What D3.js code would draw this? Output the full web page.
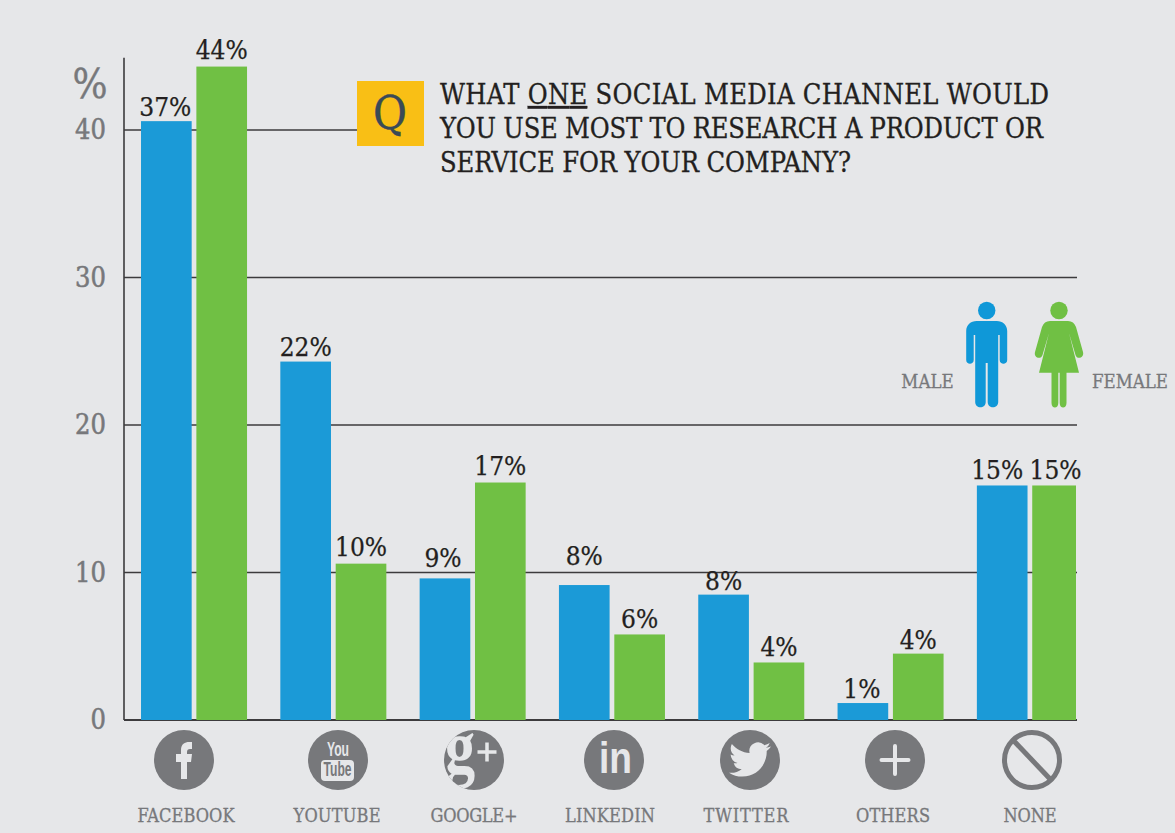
<!DOCTYPE html>
<html>
<head>
<meta charset="utf-8">
<script src="https://cdnjs.cloudflare.com/ajax/libs/d3/7.8.5/d3.min.js"></script>
<style>
  html, body { margin: 0; padding: 0; background: #e6e7e9; }
  svg { display: block; }
  text { font-family: "DejaVu Serif Condensed", "DejaVu Serif", serif; }
</style>
</head>
<body>
<div id="chart"></div>
<script>
const categories = ['FACEBOOK', 'YOUTUBE', 'GOOGLE+', 'LINKEDIN', 'TWITTER', 'OTHERS', 'NONE'];
// bar heights as drawn, these do not always agree with the printed labels
const maleValues = [40.6, 24.3, 9.6, 9.15, 8.5, 1.15, 15.9];
const femaleValues = [44.3, 10.6, 16.1, 5.8, 3.9, 4.5, 15.9];
const maleLabels = ['37%', '22%', '9%', '8%', '8%', '1%', '15%'];
const femaleLabels = ['44%', '10%', '17%', '6%', '4%', '4%', '15%'];
const yTicks = [0, 10, 20, 30, 40];
const titleLines = ['WHAT ', 'ONE', ' SOCIAL MEDIA CHANNEL WOULD'];
const titleRest = ['YOU USE MOST TO RESEARCH A PRODUCT OR', 'SERVICE FOR YOUR COMPANY?'];

const width = 1175;
const height = 833;
const blue = '#1b9ad7';
const green = '#70c044';
const grey = '#77787b';
const ink = '#231f20';
const bg = '#e6e7e9';

const svg = d3.select('#chart').append('svg')
  .attr('width', width)
  .attr('height', height);

svg.append('rect').attr('width', width).attr('height', height).attr('fill', bg);

const x = d3.scaleBand().domain(categories).range([124.3, 1099.6]).paddingInner(0.239).paddingOuter(0.12);
const sub = d3.scaleBand().domain(['male', 'female']).range([0, x.bandwidth()]).paddingInner(0.085);
const y = d3.scaleLinear().domain([0, 40]).range([720, 130]);

// grid, the 40 line stops at the Q box
const gridEnd = [1077, 1077, 1077, 1077, 357];
svg.append('g').selectAll('line')
  .data(yTicks)
  .enter().append('line')
  .attr('x1', 124)
  .attr('x2', (d, i) => gridEnd[i])
  .attr('y1', d => y(d))
  .attr('y2', d => y(d))
  .attr('stroke', '#3c3b3d')
  .attr('stroke-width', d => d === 0 ? 2 : 1.4);

// y axis
const yAxis = svg.append('g')
  .attr('transform', 'translate(124,0)')
  .call(d3.axisLeft(y).tickValues(yTicks).tickSize(0).tickPadding(18));
yAxis.select('.domain').remove();
yAxis.selectAll('text')
  .attr('fill', grey)
  .attr('stroke', grey)
  .attr('stroke-width', 0.5)
  .style('font-size', '27px');

svg.append('line')
  .attr('x1', 124).attr('x2', 124)
  .attr('y1', y(44.9)).attr('y2', y(0))
  .attr('stroke', '#3c3b3d').attr('stroke-width', 1.6);

svg.append('text')
  .attr('x', 90).attr('y', 98)
  .attr('text-anchor', 'middle')
  .attr('fill', grey)
  .attr('stroke', grey)
  .attr('stroke-width', 0.4)
  .style('font-size', '41px')
  .text('%');

// the last green bar is cut off by the end of the grid
svg.append('clipPath').attr('id', 'plot-clip')
  .append('rect').attr('x', 124).attr('y', 0).attr('width', 952).attr('height', height);

const bars = svg.append('g').attr('clip-path', 'url(#plot-clip)');

function drawBars(values, key, color) {
  bars.selectAll('.bar-' + key)
    .data(values)
    .enter().append('rect')
    .attr('class', 'bar-' + key)
    .attr('x', (d, i) => x(categories[i]) + sub(key))
    .attr('y', d => y(d))
    .attr('width', sub.bandwidth())
    .attr('height', d => y(0) - y(d))
    .attr('fill', color);
}
drawBars(maleValues, 'male', blue);
drawBars(femaleValues, 'female', green);

// value labels sit a bit unevenly around the bars in the original
const maleLift = [5, 6, 11, 20, 5, 5, 6];
const femaleLift = [8, 8, 8, 6, 6, 5, 6];
const maleNudge = [-1, 0, -2, 0, 0, -1, -5];
const femaleNudge = [0, 0, 0, 0, 0, 0, -2];

function drawLabels(labels, values, key, lift, nudge) {
  svg.append('g').selectAll('text')
    .data(labels)
    .enter().append('text')
    .attr('x', (d, i) => x(categories[i]) + sub(key) + sub.bandwidth() / 2 + nudge[i])
    .attr('y', (d, i) => y(values[i]) - lift[i])
    .attr('text-anchor', 'middle')
    .attr('fill', ink)
    .attr('stroke', ink)
    .attr('stroke-width', 0.25)
    .style('font-size', '26px')
    .text(d => d);
}
drawLabels(maleLabels, maleValues, 'male', maleLift, maleNudge);
drawLabels(femaleLabels, femaleValues, 'female', femaleLift, femaleNudge);

// question box
svg.append('rect')
  .attr('x', 357).attr('y', 81).attr('width', 67).attr('height', 65)
  .attr('fill', '#f9bf15');
svg.append('text')
  .attr('x', 390).attr('y', 129)
  .attr('text-anchor', 'middle')
  .attr('fill', '#3a4a56')
  .attr('stroke', '#3a4a56')
  .attr('stroke-width', 0.4)
  .style('font-size', '46px')
  .text('Q');

const title = svg.append('g')
  .attr('fill', ink)
  .attr('stroke', ink)
  .attr('stroke-width', 0.3)
  .style('font-size', '27px');
const firstLine = title.append('text')
  .attr('x', 440).attr('y', 104)
  .attr('textLength', 609);
titleLines.forEach((t, i) => {
  firstLine.append('tspan')
    .attr('text-decoration', i === 1 ? 'underline' : null)
    .style('white-space', 'pre')
    .text(t);
});
const restLength = [603, 411];
title.selectAll('.rest')
  .data(titleRest)
  .enter().append('text')
  .attr('class', 'rest')
  .attr('x', 440)
  .attr('y', (d, i) => 138 + i * 34)
  .attr('textLength', (d, i) => restLength[i])
  .text(d => d);

// category names and icons, not quite centred under the bars in the original
const labelX = [186, 337, 474, 610, 746, 893, 1030];
const labelLength = [97, 87, 87, 90, 85, 74, 53];
const iconX = [184, 338, 474, 614, 750, 895, 1032];

svg.append('g').selectAll('text')
  .data(categories)
  .enter().append('text')
  .attr('x', (d, i) => labelX[i])
  .attr('y', 822)
  .attr('text-anchor', 'middle')
  .attr('textLength', (d, i) => labelLength[i])
  .attr('fill', grey)
  .attr('stroke', grey)
  .attr('stroke-width', 0.3)
  .style('font-size', '18px')
  .text(d => d);

const icons = svg.append('g').selectAll('g')
  .data(categories)
  .enter().append('g')
  .attr('transform', (d, i) => `translate(${iconX[i]},760)`);

icons.filter(d => d !== 'NONE').append('circle').attr('r', 30).attr('fill', grey);

// facebook
icons.filter(d => d === 'FACEBOOK').append('path')
  .attr('d', 'M-3,19V2H-8V-6H-3V-10C-3,-16 1,-18 5,-18H8V-11H6C4,-11 3,-10 3,-8V-6H8L7,2H3V19Z')
  .attr('fill', bg);

// youtube
const yt = icons.filter(d => d === 'YOUTUBE');
yt.append('text')
  .attr('text-anchor', 'middle').attr('y', -4)
  .attr('textLength', 22).attr('lengthAdjust', 'spacingAndGlyphs')
  .attr('fill', bg)
  .style('font-family', '"Liberation Sans", sans-serif')
  .style('font-weight', 'bold').style('font-size', '20px')
  .text('You');
yt.append('rect')
  .attr('x', -17).attr('y', 0).attr('width', 33).attr('height', 21).attr('rx', 4)
  .attr('fill', bg);
yt.append('text')
  .attr('text-anchor', 'middle').attr('y', 16).attr('x', -0.5)
  .attr('textLength', 28).attr('lengthAdjust', 'spacingAndGlyphs')
  .attr('fill', grey)
  .style('font-family', '"Liberation Sans", sans-serif')
  .style('font-weight', 'bold').style('font-size', '20px')
  .text('Tube');

// google+
const gp = icons.filter(d => d === 'GOOGLE+');
svg.append('clipPath').attr('id', 'gplus-clip').append('circle').attr('r', 30);
gp.append('g').attr('clip-path', 'url(#gplus-clip)').append('text')
  .attr('text-anchor', 'middle')
  .attr('transform', 'translate(-14,13) scale(0.8,1)')
  .attr('fill', bg)
  .style('font-family', '"Liberation Serif", serif')
  .style('font-weight', 'bold').style('font-size', '76px')
  .text('g');
gp.append('path')
  .attr('d', 'M3.5,-8H22.5M13,-17.5V1.5')
  .attr('stroke', bg).attr('stroke-width', 3.5).attr('fill', 'none');

// linkedin
icons.filter(d => d === 'LINKEDIN').append('text')
  .attr('text-anchor', 'middle').attr('x', 1.5).attr('y', 13)
  .attr('textLength', 33).attr('lengthAdjust', 'spacingAndGlyphs')
  .attr('fill', bg)
  .style('font-family', '"Liberation Sans", sans-serif')
  .style('font-weight', 'bold').style('font-size', '45px')
  .text('in');

// twitter
icons.filter(d => d === 'TWITTER').append('path')
  .attr('transform', 'translate(-21,-21.5) scale(1.75)')
  .attr('d', 'M23.953 4.57a10 10 0 01-2.825.775 4.958 4.958 0 002.163-2.723c-.951.555-2.005.959-3.127 1.184a4.92 4.92 0 00-8.384 4.482C7.69 8.095 4.067 6.13 1.64 3.162a4.822 4.822 0 00-.666 2.475c0 1.71.87 3.213 2.188 4.096a4.904 4.904 0 01-2.228-.616v.06a4.923 4.923 0 003.946 4.827 4.996 4.996 0 01-2.212.085 4.936 4.936 0 004.604 3.417 9.867 9.867 0 01-6.102 2.105c-.39 0-.779-.023-1.17-.067a13.995 13.995 0 007.557 2.209c9.053 0 13.998-7.496 13.998-13.985 0-.21 0-.42-.015-.63A9.935 9.935 0 0024 4.59z')
  .attr('fill', bg);

// others
icons.filter(d => d === 'OTHERS').append('path')
  .attr('d', 'M-13.5,0H13.5M0,-14V14')
  .attr('stroke', bg).attr('stroke-width', 4).attr('stroke-linecap', 'round').attr('fill', 'none');

// none
const none = icons.filter(d => d === 'NONE');
none.append('circle').attr('r', 27.5).attr('fill', 'none').attr('stroke', grey).attr('stroke-width', 5);
none.append('line')
  .attr('x1', -19).attr('y1', -20).attr('x2', 19).attr('y2', 20)
  .attr('stroke', grey).attr('stroke-width', 5);

// legend figures
const legend = svg.append('g');
const male = legend.append('g').attr('transform', 'translate(986.7,0)');
male.append('circle').attr('cy', 310.5).attr('r', 8.7).attr('fill', '#0f98d8');
male.append('path')
  .attr('d', 'M-20.5,331C-20.5,325 -16,321 -10,321H10C16,321 20.5,325 20.5,331V360C20.5,365 13,365 13,360V335H11.5V402C11.5,409 1,409 1,402V363H-1V402C-1,409 -11.5,409 -11.5,402V335H-13V360C-13,365 -20.5,365 -20.5,360Z')
  .attr('fill', '#0f98d8');

const female = legend.append('g').attr('transform', 'translate(1059,0)');
female.append('circle').attr('cy', 310.5).attr('r', 8.7).attr('fill', green);
female.append('path')
  .attr('d', 'M-9,321H9C13,321 15.5,323 17,327L24,352C25.5,358 18,360 16.5,355L10,333 L20,372.7H7.5V403C7.5,409 0.7,409 0.7,403V372.7H-0.7V403C-0.7,409 -7.5,409 -7.5,403V372.7H-20L-10,333L-16.5,355C-18,360 -25.5,358 -24,352L-17,327C-15.5,323 -13,321 -9,321Z')
  .attr('fill', green);

const legendLabels = ['MALE', 'FEMALE'];
const legendX = [927.5, 1130];
legend.selectAll('text')
  .data(legendLabels)
  .enter().append('text')
  .attr('x', (d, i) => legendX[i])
  .attr('y', 388)
  .attr('text-anchor', 'middle')
  .attr('fill', grey)
  .attr('stroke', grey)
  .attr('stroke-width', 0.3)
  .style('font-size', '18.5px')
  .text(d => d);
</script>
</body>
</html>
